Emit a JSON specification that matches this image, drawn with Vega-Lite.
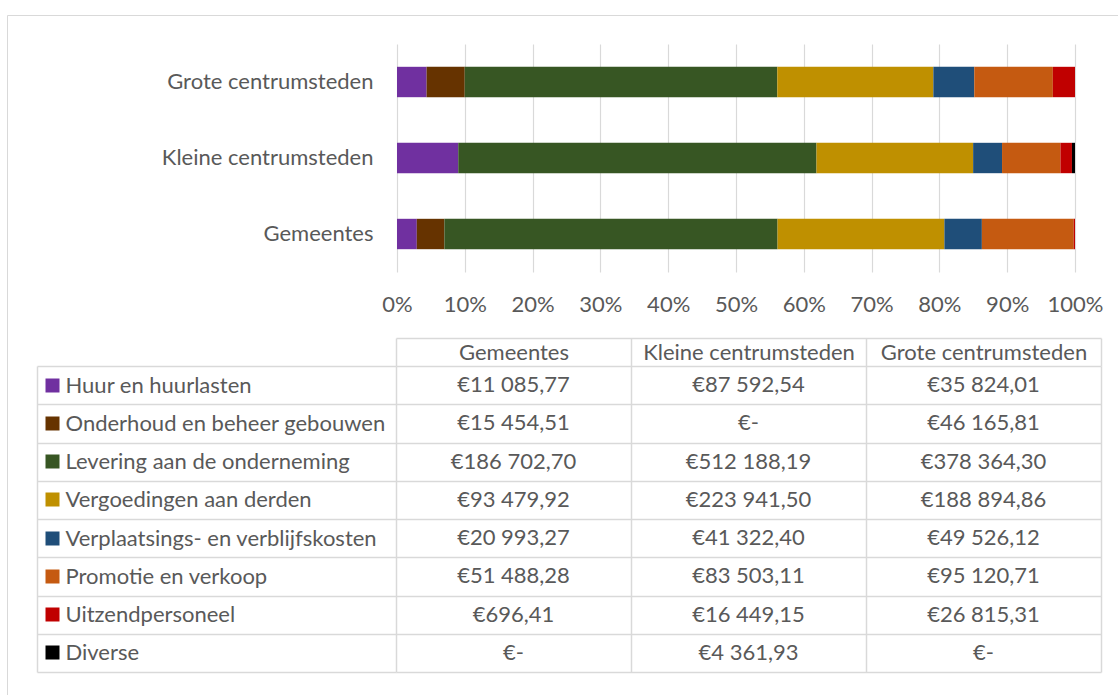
{
  "$schema": "https://vega.github.io/schema/vega-lite/v6.json",
  "width": 1111,
  "height": 680,
  "autosize": "none",
  "padding": {"left": 7, "top": 15, "right": 0, "bottom": 0},
  "background": "white",
  "config": {
    "view": {"stroke": null},
    "locale": {"number": {"decimal": ",", "thousands": " ", "grouping": [3], "currency": ["€", ""]}},
    "axis": {
      "labelFont": "Lato", "labelFontSize": 22, "labelColor": "#595959", "labelLimit": 600,
      "domain": false, "ticks": false, "grid": false,
      "domainColor": "#D9D9D9", "tickColor": "#D9D9D9", "gridColor": "#D9D9D9",
      "domainWidth": 1.5, "tickWidth": 1.5, "gridWidth": 1.5, "labelOverlap": false
    }
  },
  "data": {"values": [
    {"region": "Gemeentes", "category": "Huur en huurlasten", "k": 1, "value": 11085.77},
    {"region": "Kleine centrumsteden", "category": "Huur en huurlasten", "k": 1, "value": 87592.54},
    {"region": "Grote centrumsteden", "category": "Huur en huurlasten", "k": 1, "value": 35824.01},
    {"region": "Gemeentes", "category": "Onderhoud en beheer gebouwen", "k": 2, "value": 15454.51},
    {"region": "Kleine centrumsteden", "category": "Onderhoud en beheer gebouwen", "k": 2, "value": 0},
    {"region": "Grote centrumsteden", "category": "Onderhoud en beheer gebouwen", "k": 2, "value": 46165.81},
    {"region": "Gemeentes", "category": "Levering aan de onderneming", "k": 3, "value": 186702.70},
    {"region": "Kleine centrumsteden", "category": "Levering aan de onderneming", "k": 3, "value": 512188.19},
    {"region": "Grote centrumsteden", "category": "Levering aan de onderneming", "k": 3, "value": 378364.30},
    {"region": "Gemeentes", "category": "Vergoedingen aan derden", "k": 4, "value": 93479.92},
    {"region": "Kleine centrumsteden", "category": "Vergoedingen aan derden", "k": 4, "value": 223941.50},
    {"region": "Grote centrumsteden", "category": "Vergoedingen aan derden", "k": 4, "value": 188894.86},
    {"region": "Gemeentes", "category": "Verplaatsings- en verblijfskosten", "k": 5, "value": 20993.27},
    {"region": "Kleine centrumsteden", "category": "Verplaatsings- en verblijfskosten", "k": 5, "value": 41322.40},
    {"region": "Grote centrumsteden", "category": "Verplaatsings- en verblijfskosten", "k": 5, "value": 49526.12},
    {"region": "Gemeentes", "category": "Promotie en verkoop", "k": 6, "value": 51488.28},
    {"region": "Kleine centrumsteden", "category": "Promotie en verkoop", "k": 6, "value": 83503.11},
    {"region": "Grote centrumsteden", "category": "Promotie en verkoop", "k": 6, "value": 95120.71},
    {"region": "Gemeentes", "category": "Uitzendpersoneel", "k": 7, "value": 696.41},
    {"region": "Kleine centrumsteden", "category": "Uitzendpersoneel", "k": 7, "value": 16449.15},
    {"region": "Grote centrumsteden", "category": "Uitzendpersoneel", "k": 7, "value": 26815.31},
    {"region": "Gemeentes", "category": "Diverse", "k": 8, "value": 0},
    {"region": "Kleine centrumsteden", "category": "Diverse", "k": 8, "value": 4361.93},
    {"region": "Grote centrumsteden", "category": "Diverse", "k": 8, "value": 0}
  ]},
  "resolve": {"scale": {"x": "independent", "y": "independent"}, "axis": {"x": "independent", "y": "independent"}},
  "layer": [
    {
      "mark": {"type": "bar", "opacity": 0},
      "encoding": {
        "x": {"field": "value", "type": "quantitative", "stack": "normalize",
              "scale": {"domain": [0, 1], "range": [390, 1068], "nice": false},
              "axis": {"orient": "top", "offset": -29, "grid": true, "gridWidth": 1.2, "labels": false,
                       "values": [0, 0.1, 0.2, 0.3, 0.4, 0.5, 0.6, 0.7, 0.8, 0.9, 1], "title": null}},
        "y": {"field": "region", "type": "nominal",
              "sort": ["Grote centrumsteden", "Kleine centrumsteden", "Gemeentes"],
              "scale": {"type": "band", "range": [29, 257], "paddingInner": 0.6, "paddingOuter": 0.3},
              "axis": null}
      }
    },
    {
      "mark": {"type": "bar"},
      "encoding": {
        "x": {"field": "value", "type": "quantitative", "stack": "normalize",
              "scale": {"domain": [0, 1], "range": [390, 1068], "nice": false},
              "axis": {"orient": "bottom", "offset": -423, "grid": false,
                       "values": [0, 0.1, 0.2, 0.3, 0.4, 0.5, 0.6, 0.7, 0.8, 0.9, 1],
                       "format": ".0%", "labelPadding": 22, "labelFlush": false, "title": null}},
        "y": {"field": "region", "type": "nominal",
              "sort": ["Grote centrumsteden", "Kleine centrumsteden", "Gemeentes"],
              "scale": {"type": "band", "range": [29, 257], "paddingInner": 0.6, "paddingOuter": 0.3},
              "axis": {"orient": "left", "offset": -390, "labelPadding": 24, "title": null}},
        "color": {"field": "category", "type": "nominal",
                  "scale": {"domain": ["Huur en huurlasten", "Onderhoud en beheer gebouwen", "Levering aan de onderneming", "Vergoedingen aan derden", "Verplaatsings- en verblijfskosten", "Promotie en verkoop", "Uitzendpersoneel", "Diverse"],
                            "range": ["#7030A0", "#663300", "#375623", "#BF9000", "#1F4E79", "#C55A11", "#C00000", "#000000"]},
                  "legend": null},
        "order": {"field": "k", "type": "quantitative"}
      }
    },
    {
      "mark": {"type": "text", "font": "Lato", "fontSize": 22, "color": "#595959", "align": "center", "baseline": "middle"},
      "encoding": {
        "x": {"field": "region", "type": "nominal",
              "sort": ["Gemeentes", "Kleine centrumsteden", "Grote centrumsteden"],
              "scale": {"type": "band", "range": [389, 1094], "paddingInner": 0, "paddingOuter": 0},
              "axis": {"orient": "top", "offset": -351, "labelPadding": 2, "labelAngle": 0, "grid": true, "tickBand": "extent", "title": null}},
        "y": {"field": "category", "type": "nominal",
              "sort": ["Huur en huurlasten", "Onderhoud en beheer gebouwen", "Levering aan de onderneming", "Vergoedingen aan derden", "Verplaatsings- en verblijfskosten", "Promotie en verkoop", "Uitzendpersoneel", "Diverse"],
              "scale": {"type": "band", "range": [351, 657], "paddingInner": 0, "paddingOuter": 0},
              "axis": {"orient": "left", "offset": -389, "labelAlign": "left", "labelPadding": 331, "grid": true, "tickBand": "extent", "title": null}},
        "text": {"condition": {"test": "datum.value === 0", "value": "€-"}, "field": "value", "type": "quantitative", "format": "$,.2f"}
      }
    },
    {
      "mark": {"type": "point", "opacity": 0},
      "encoding": {
        "x": {"field": "region", "type": "nominal",
              "sort": ["Gemeentes", "Kleine centrumsteden", "Grote centrumsteden"],
              "scale": {"type": "band", "range": [389, 1094], "paddingInner": 0, "paddingOuter": 0},
              "axis": {"orient": "top", "offset": -323, "domain": true, "ticks": true, "tickSize": -28, "tickBand": "extent", "labels": false, "title": null}},
        "y": {"field": "category", "type": "nominal",
              "sort": ["Huur en huurlasten", "Onderhoud en beheer gebouwen", "Levering aan de onderneming", "Vergoedingen aan derden", "Verplaatsings- en verblijfskosten", "Promotie en verkoop", "Uitzendpersoneel", "Diverse"],
              "scale": {"type": "band", "range": [351, 657], "paddingInner": 0, "paddingOuter": 0},
              "axis": {"orient": "left", "offset": -30, "domain": true, "ticks": true, "tickSize": -359, "tickBand": "extent", "labels": false, "title": null}}
      }
    },
    {
      "mark": {"type": "point", "opacity": 0},
      "encoding": {
        "x": {"field": "region", "type": "nominal",
              "scale": {"type": "band", "range": [0, 1111], "paddingInner": 0, "paddingOuter": 0},
              "axis": {"orient": "top", "offset": 0, "domain": true, "domainWidth": 1, "ticks": false, "labels": false, "title": null}},
        "y": {"field": "category", "type": "nominal",
              "sort": ["Huur en huurlasten", "Onderhoud en beheer gebouwen", "Levering aan de onderneming", "Vergoedingen aan derden", "Verplaatsings- en verblijfskosten", "Promotie en verkoop", "Uitzendpersoneel", "Diverse"],
              "scale": {"type": "band", "range": [351, 657], "paddingInner": 0, "paddingOuter": 0},
              "axis": {"orient": "left", "offset": -52, "domain": false, "ticks": true, "tickSize": 14, "tickWidth": 14, "labels": false, "title": null,
                       "tickColor": {"condition": [
                         {"test": "datum.value === 'Huur en huurlasten'", "value": "#7030A0"},
                         {"test": "datum.value === 'Onderhoud en beheer gebouwen'", "value": "#663300"},
                         {"test": "datum.value === 'Levering aan de onderneming'", "value": "#375623"},
                         {"test": "datum.value === 'Vergoedingen aan derden'", "value": "#BF9000"},
                         {"test": "datum.value === 'Verplaatsings- en verblijfskosten'", "value": "#1F4E79"},
                         {"test": "datum.value === 'Promotie en verkoop'", "value": "#C55A11"},
                         {"test": "datum.value === 'Uitzendpersoneel'", "value": "#C00000"}
                       ], "value": "#000000"}}}
      }
    },
    {
      "mark": {"type": "point", "opacity": 0},
      "encoding": {
        "x": {"field": "region", "type": "nominal",
              "scale": {"type": "band", "range": [0, 1111]}, "axis": null},
        "y": {"field": "category", "type": "nominal",
              "scale": {"type": "band", "range": [0, 680], "paddingInner": 0, "paddingOuter": 0},
              "axis": {"orient": "left", "offset": 0, "domain": true, "domainWidth": 1, "ticks": false, "labels": false, "title": null}}
      }
    }
  ]
}
